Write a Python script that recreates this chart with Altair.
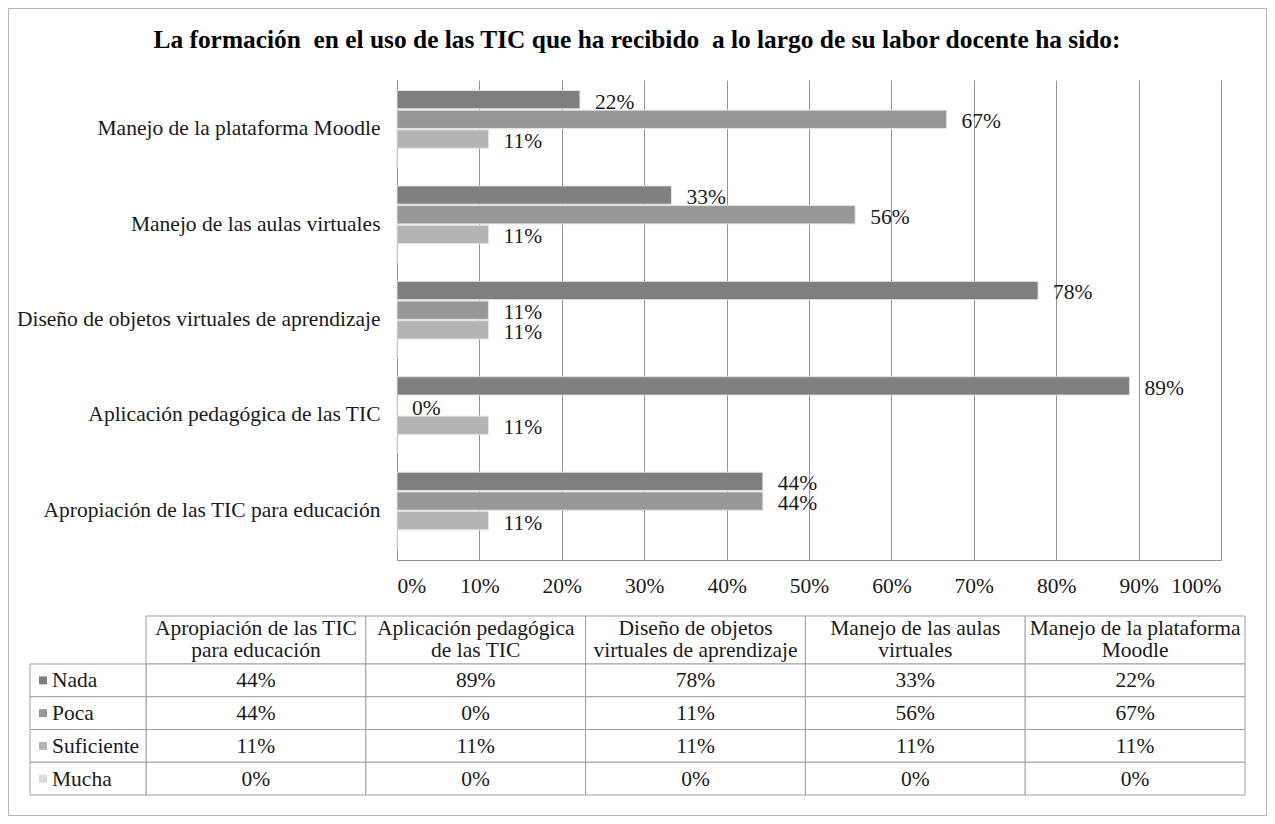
import altair as alt
import pandas as pd

# ---------------- data ----------------
categories = [
    "Apropiación de las TIC para educación",
    "Aplicación pedagógica de las TIC",
    "Diseño de objetos virtuales de aprendizaje",
    "Manejo de las aulas virtuales",
    "Manejo de la plataforma Moodle",
]
header_labels = [
    "Apropiación de las TIC\npara educación",
    "Aplicación pedagógica\nde las TIC",
    "Diseño de objetos\nvirtuales de aprendizaje",
    "Manejo de las aulas\nvirtuales",
    "Manejo de la plataforma\nMoodle",
]
series = ["Nada", "Poca", "Suficiente", "Mucha"]
nada = [0.444, 0.889, 0.778, 0.333, 0.222]
poca = [0.444, 0.0, 0.111, 0.556, 0.667]
suficiente = [0.111, 0.111, 0.111, 0.111, 0.111]
mucha = [0.0, 0.0, 0.0, 0.0, 0.0]
x_ticks = [0.0, 0.1, 0.2, 0.3, 0.4, 0.5, 0.6, 0.7, 0.8, 0.9, 1.0]
title_text = "La formación\u00a0 en el uso de las TIC que ha recibido\u00a0 a lo largo de su labor docente ha sido:"

# ---------------- styles ----------------
FONT = "Liberation Serif"
FS = 21.5
TXT = "#1a1a1a"
GRID = "#939393"
TBL = "#a0a0a0"
colors = ["#7f7f7f", "#979797", "#b4b4b4", "#dadada"]

rows = []
for i, c in enumerate(categories):
    for s, vals in zip(series, [nada, poca, suficiente, mucha]):
        rows.append({"category": c, "header": header_labels[i], "series": s, "value": vals[i]})
df = pd.DataFrame(rows)
bar_order = categories[::-1]

color_enc = alt.Color("series:N", sort=series,
                      scale=alt.Scale(domain=series, range=colors), legend=None)

# ---------------- bar chart ----------------
x_bar = alt.X("value:Q", scale=alt.Scale(domain=[0, 1], nice=False, zero=True),
              axis=alt.Axis(values=x_ticks, format=".0%", title=None, grid=True,
                            gridColor=GRID, gridWidth=1, ticks=False, domainColor=GRID,
                            labelFont=FONT, labelFontSize=FS, labelColor=TXT,
                            labelPadding=15))
y_bar = alt.Y("category:N", sort=bar_order,
              scale=alt.Scale(paddingInner=0.19, paddingOuter=0.11),
              axis=alt.Axis(title=None, ticks=False, domainColor=GRID, grid=False,
                            labelFont=FONT, labelFontSize=FS, labelColor=TXT,
                            labelPadding=17, labelLimit=500))
y_off = alt.YOffset("series:N", sort=series, scale=alt.Scale(paddingInner=0.07))

bars = alt.Chart(df).mark_bar(stroke="#e2e2e2", strokeWidth=1).encode(
    x=x_bar, y=y_bar, yOffset=y_off, color=color_enc)
labels = alt.Chart(df).transform_filter(alt.datum.series != "Mucha").mark_text(
    align="left", baseline="middle", dx=15, dy=3, font=FONT, fontSize=FS, color=TXT
).encode(x=x_bar, y=y_bar, yOffset=y_off, text=alt.Text("value:Q", format=".0%"))
main = alt.layer(bars, labels)

# ---------------- data table ----------------
band0 = dict(type="band", paddingInner=0, paddingOuter=0)
tx = alt.X("category:N", sort=categories, scale=alt.Scale(range=[-251, 848], **band0), axis=None)
ty_rows = alt.Y("series:N", sort=series, scale=alt.Scale(range=[584, 715], **band0), axis=None)

cell_rect = alt.Chart(df).mark_rect(fill="white", stroke=TBL, strokeWidth=1).encode(x=tx, y=ty_rows)
cell_text = alt.Chart(df).mark_text(baseline="middle", font=FONT, fontSize=FS, color=TXT, dy=1).encode(
    x=tx, y=ty_rows, text=alt.Text("value:Q", format=".0%"))
cells = alt.layer(cell_rect, cell_text)

hdr_df = pd.DataFrame({"category": categories, "header": header_labels, "row": ["h"] * len(categories)})
ty_hdr = alt.Y("row:N", scale=alt.Scale(range=[536, 584], **band0), axis=None)
hdr_rect = alt.Chart(hdr_df).mark_rect(fill="white", stroke=TBL, strokeWidth=1).encode(x=tx, y=ty_hdr)
hdr_text = alt.Chart(hdr_df).mark_text(baseline="middle", lineBreak="\n", lineHeight=22, dy=-11,
                                       font=FONT, fontSize=FS, color=TXT).encode(
    x=tx, y=ty_hdr, text="header:N")
hdr = alt.layer(hdr_rect, hdr_text)

leg_df = pd.DataFrame({"series": series, "col": ["l"] * len(series)})
lx = alt.X("col:N", scale=alt.Scale(range=[-367, -251], **band0), axis=None)
leg_rect = alt.Chart(leg_df).mark_rect(fill="white", stroke=TBL, strokeWidth=1).encode(x=lx, y=ty_rows)
leg_sq = alt.Chart(leg_df).mark_square(size=64, opacity=1, filled=True, xOffset=-45).encode(
    x=lx, y=ty_rows, color=color_enc)
leg_text = alt.Chart(leg_df).mark_text(align="left", baseline="middle", dx=-36, dy=1,
                                       font=FONT, fontSize=FS, color=TXT).encode(
    x=lx, y=ty_rows, text="series:N")
legend_col = alt.layer(leg_rect, leg_sq, leg_text)

# ---------------- frame and title ----------------
one = pd.DataFrame({"t": [title_text]})
border = alt.Chart(one).mark_rect(fillOpacity=0, stroke="#b4b4b4", strokeWidth=1).encode(
    x=alt.value(-388.5), x2=alt.value(869.5), y=alt.value(-71.5), y2=alt.value(735.5))
title = alt.Chart(one).mark_text(font=FONT, fontSize=25.4, fontWeight="bold", color="#000000",
                                 align="center", baseline="middle").encode(
    x=alt.value(240), y=alt.value(-40), text="t:N")

chart = alt.layer(border, title, main, hdr, cells, legend_col).resolve_scale(
    x="independent", y="independent"
).properties(
    width=824, height=480,
    padding={"left": 389, "top": 72, "right": 46, "bottom": 256},
    autosize=alt.AutoSizeParams(type="none"),
    background="white",
).configure_view(stroke=None)

chart.save("out.html", embed_options={"renderer": "svg", "actions": False})
